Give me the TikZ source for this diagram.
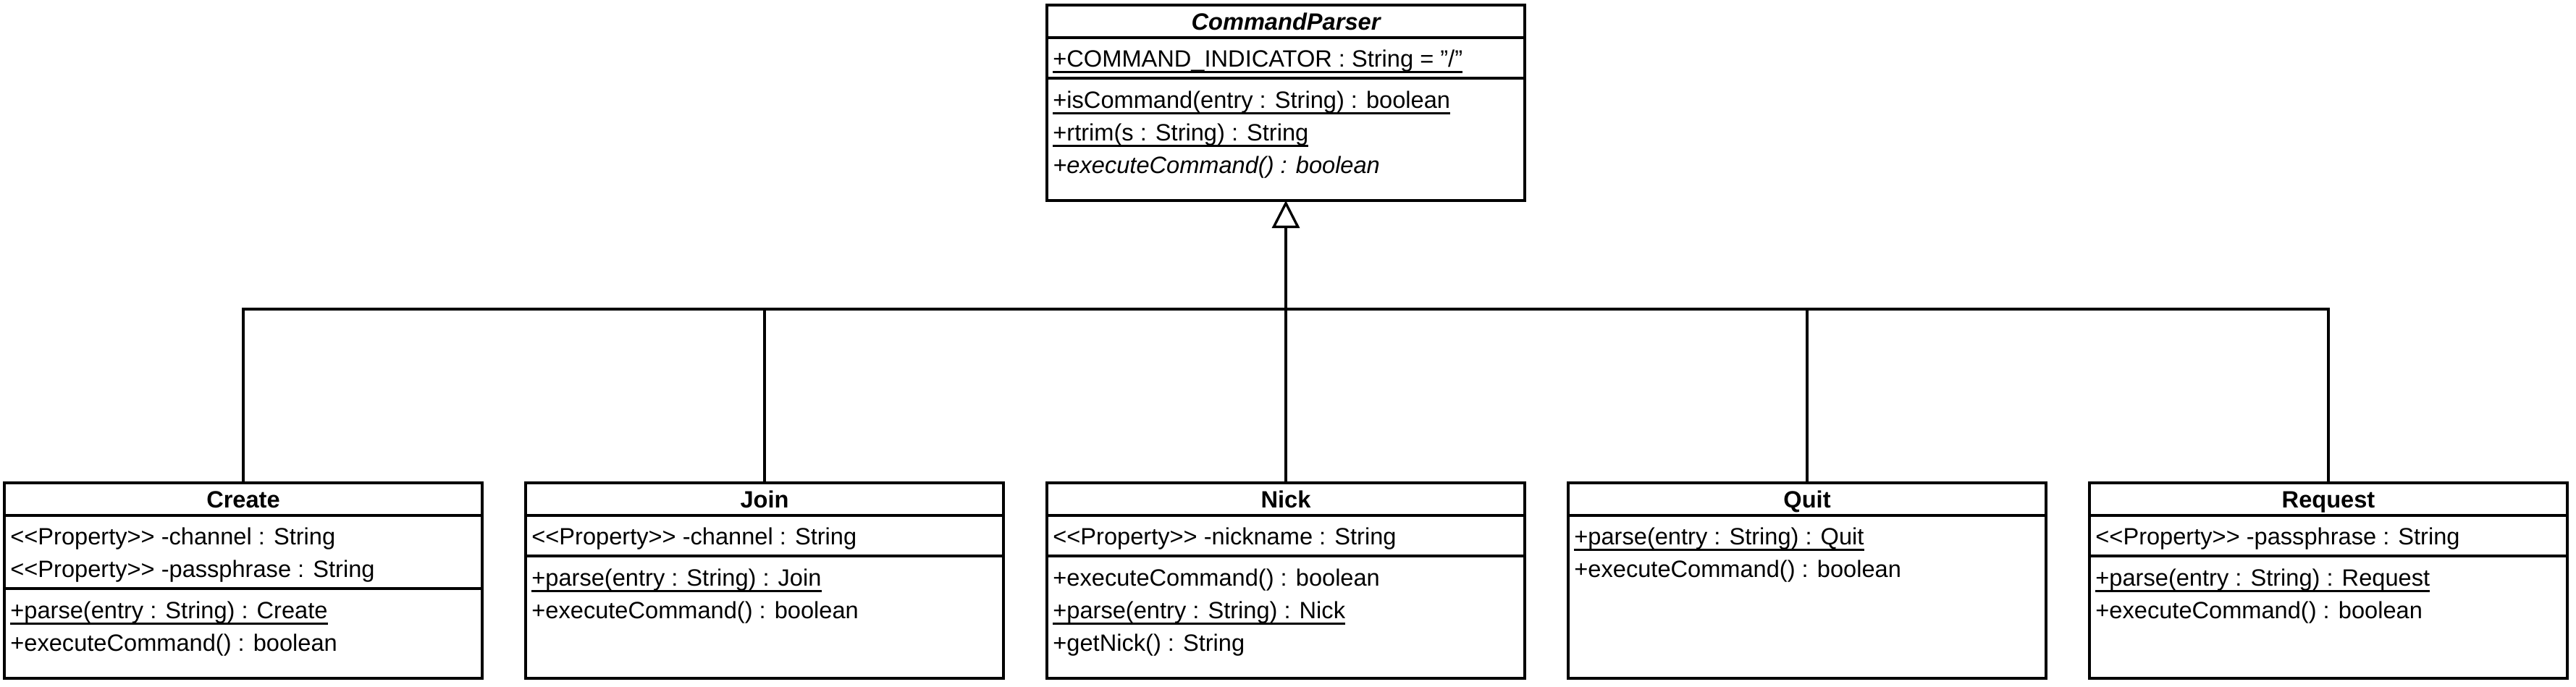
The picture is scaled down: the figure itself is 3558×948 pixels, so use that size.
\documentclass[tikz,border=0pt]{standalone}
\usepackage{fontspec}
\setmainfont{Liberation Sans}
\usetikzlibrary{positioning,arrows.meta,calc}
\newcommand{\umlfont}{\fontsize{16.3pt}{22pt}\selectfont}
\newcommand{\umlstatic}[1]{\setbox0\hbox{#1}\leavevmode\rlap{\rule[-4.6pt]{\wd0}{1.4pt}}\box0}
\tikzset{
  classbox/.style={draw,line width=1.7pt,minimum width=330pt,minimum height=135pt,
    inner sep=0pt,outer sep=0pt},
  classname/.style={anchor=base,inner sep=0pt,font=\umlfont\bfseries},
  member/.style={anchor=base west,inner sep=0pt,font=\umlfont},
  divider/.style={line width=1.7pt},
  link/.style={line width=1.7pt},
  generalize/.style={link,-{Triangle[open,length=19pt,width=19pt]}}
}

\begin{document}
\begin{tikzpicture}[x=0.5pt,y=-0.5pt]
  \useasboundingbox (0,0) rectangle (3558,948);
  % abstract parent class
  \node[classbox,anchor=north west] (parser) at (1446,7) {};
  \draw[divider] ($(parser.north west)+(0,45)$) -- ($(parser.north east)+(0,45)$);
  \draw[divider] ($(parser.north west)+(0,101)$) -- ($(parser.north east)+(0,101)$);
  \node[classname] (parsername) at ($(parser.north)+(0,34)$) {\itshape CommandParser};
  \node[member] (parserindicator) at ($(parser.north west)+(8,85)$) {\umlstatic{+COMMAND\_INDICATOR : String = \symbol{34}/\symbol{34}}};
  \node[member] (parseriscmd) at ($(parser.north west)+(8,142)$) {\umlstatic{+isCommand(entry : String) : boolean}};
  \node[member] (parserrtrim) at ($(parser.north west)+(8,187)$) {\umlstatic{+rtrim(s : String) : String}};
  \node[member] (parserexec) at ($(parser.north west)+(8,232)$) {\itshape +executeCommand() : boolean};

  % concrete commands
  \node[classbox,anchor=north west] (create) at (6,667) {};
  \node[classbox,right=30pt of create] (join) {};
  \node[classbox,right=30pt of join] (nick) {};
  \node[classbox,right=30pt of nick] (quit) {};
  \node[classbox,right=30pt of quit] (request) {};

  % Create
  \draw[divider] ($(create.north west)+(0,45)$) -- ($(create.north east)+(0,45)$);
  \draw[divider] ($(create.north west)+(0,146)$) -- ($(create.north east)+(0,146)$);
  \node[classname] (createname) at ($(create.north)+(0,34)$) {Create};
  \node[member] (createchannel) at ($(create.north west)+(8,85)$) {<{}<Property>{}> -channel : String};
  \node[member] (createpass) at ($(create.north west)+(8,130)$) {<{}<Property>{}> -passphrase : String};
  \node[member] (createparse) at ($(create.north west)+(8,187)$) {\umlstatic{+parse(entry : String) : Create}};
  \node[member] (createexec) at ($(create.north west)+(8,232)$) {+executeCommand() : boolean};

  % Join
  \draw[divider] ($(join.north west)+(0,45)$) -- ($(join.north east)+(0,45)$);
  \draw[divider] ($(join.north west)+(0,101)$) -- ($(join.north east)+(0,101)$);
  \node[classname] (joinname) at ($(join.north)+(0,34)$) {Join};
  \node[member] (joinchannel) at ($(join.north west)+(8,85)$) {<{}<Property>{}> -channel : String};
  \node[member] (joinparse) at ($(join.north west)+(8,142)$) {\umlstatic{+parse(entry : String) : Join}};
  \node[member] (joinexec) at ($(join.north west)+(8,187)$) {+executeCommand() : boolean};

  % Nick
  \draw[divider] ($(nick.north west)+(0,45)$) -- ($(nick.north east)+(0,45)$);
  \draw[divider] ($(nick.north west)+(0,101)$) -- ($(nick.north east)+(0,101)$);
  \node[classname] (nickname) at ($(nick.north)+(0,34)$) {Nick};
  \node[member] (nicknick) at ($(nick.north west)+(8,85)$) {<{}<Property>{}> -nickname : String};
  \node[member] (nickexec) at ($(nick.north west)+(8,142)$) {+executeCommand() : boolean};
  \node[member] (nickparse) at ($(nick.north west)+(8,187)$) {\umlstatic{+parse(entry : String) : Nick}};
  \node[member] (nickget) at ($(nick.north west)+(8,232)$) {+getNick() : String};

  % Quit
  \draw[divider] ($(quit.north west)+(0,45)$) -- ($(quit.north east)+(0,45)$);
  \node[classname] (quitname) at ($(quit.north)+(0,34)$) {Quit};
  \node[member] (quitparse) at ($(quit.north west)+(8,85)$) {\umlstatic{+parse(entry : String) : Quit}};
  \node[member] (quitexec) at ($(quit.north west)+(8,130)$) {+executeCommand() : boolean};

  % Request
  \draw[divider] ($(request.north west)+(0,45)$) -- ($(request.north east)+(0,45)$);
  \draw[divider] ($(request.north west)+(0,101)$) -- ($(request.north east)+(0,101)$);
  \node[classname] (requestname) at ($(request.north)+(0,34)$) {Request};
  \node[member] (requestpass) at ($(request.north west)+(8,85)$) {<{}<Property>{}> -passphrase : String};
  \node[member] (requestparse) at ($(request.north west)+(8,142)$) {\umlstatic{+parse(entry : String) : Request}};
  \node[member] (requestexec) at ($(request.north west)+(8,187)$) {+executeCommand() : boolean};

  % generalization
  \coordinate (bus) at ($(parser.south)+(0,150)$);
  \draw[link] (create.north) |- (bus);
  \draw[link] (join.north) |- (bus);
  \draw[link] (quit.north) |- (bus);
  \draw[link] (request.north) |- (bus);
  \draw[generalize] (nick.north) -- (parser.south);
\end{tikzpicture}
\end{document}
